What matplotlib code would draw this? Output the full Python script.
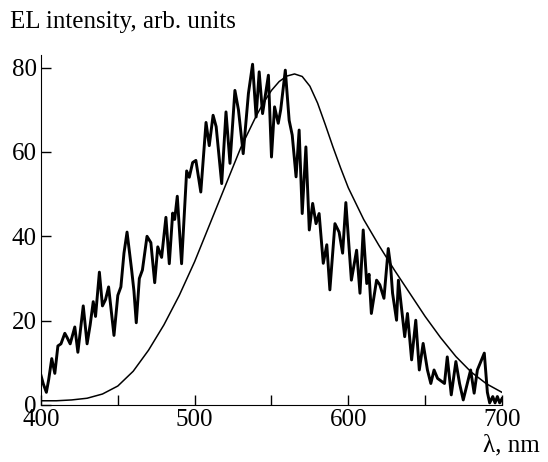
import matplotlib.pyplot as plt

# EL spectrum (noisy trace)
wl_el = [400, 401.5, 403.5, 405, 407, 409, 411, 413, 415.5, 417, 419, 422, 424, 427.5, 430,
         432, 434, 435.5, 438, 440, 442, 444, 447.5, 450, 452, 454, 456, 459, 460.5, 462,
         464, 466, 469, 471.5, 474, 476, 478.5, 481.3, 483.5, 485.7, 487, 488.7, 491.5, 494.8,
         496.5, 498.7, 500.8, 504, 507.4, 509.5, 512, 514, 517.6, 520.4, 523, 526.2, 528.5,
         531.6, 535, 537.7, 540, 542, 544.2, 548, 550, 552, 554.4, 556, 559, 561.5, 563.5,
         566, 568, 570, 572.4, 574.6, 576.8, 579, 581, 583.7, 586, 588, 591.3, 594, 596.3,
         598.4, 602, 605.4, 607.6, 609.7, 612, 613.5, 615, 618.4, 620.5, 623.2, 626, 627.5,
         628.8, 631.4, 632.6, 636.7, 638.5, 641.2, 643.9, 646.2, 648.7, 651.5, 653.7, 655.8,
         658.1, 662.6, 664.4, 667, 670, 672.4, 674.8, 679.6, 681.9, 684, 688.5, 690.5, 692,
         694, 695.5, 697, 698.5, 700]
el = [7, 5, 3, 6, 11, 7.5, 14, 14.5, 17, 16, 14.5, 18.5, 12.5, 23.5, 14.5,
      19, 24.5, 21, 31.5, 23.5, 25, 28, 16.5, 26, 28, 36, 41, 32, 27, 19.5,
      30, 32, 40, 38.5, 29, 37.5, 35, 44.5, 33.5, 45.5, 44, 49.5, 33.5, 55.5,
      54, 57.5, 58, 50.5, 67, 61.5, 68.7, 66, 52.5, 69.5, 57.3, 74.6, 70,
      59.6, 73.9, 80.8, 68.3, 79, 69.1, 78.2, 58.8, 70.7, 66.8, 70, 79.4, 67.5, 64,
      54.1, 65.2, 45.4, 61.2, 41.5, 47.8, 43, 45.4, 33.6, 38, 27.3, 43, 41, 36,
      48, 29.6, 36.7, 26.5, 41.5, 28.8, 31, 21.7, 29.6, 28.5, 25.3, 37.1, 33,
      26.5, 20.1, 29.6, 16.2, 21.7, 10.7, 20.1, 8.3, 14.6, 8.3, 5.1, 8.3,
      6.3, 5.1, 11.4, 2.4, 10.3, 5.1, 1.2, 8.3, 2.8, 8.3, 12.3, 3, 0.5,
      2, 0.5, 2, 0.5, 1.5]

# smooth curve
wl_fit = [400, 410, 420, 430, 440, 450, 460, 470, 480, 490, 500, 510, 520, 530, 540, 545,
          550, 555, 560, 565, 570, 575, 580, 585, 590, 595, 600, 610, 620, 630, 640, 650,
          660, 670, 680, 690, 700]
fit = [1.0, 1.0, 1.2, 1.6, 2.6, 4.5, 8, 13, 19, 26, 34, 43, 52, 61, 68.5, 71.8,
       74.6, 76.7, 78.0, 78.5, 77.9, 75.6, 71.6, 66.5, 61.2, 56.2, 51.5, 44, 37.8, 32, 26.5, 21,
       16, 11.5, 7.8, 5, 3]

plt.rcParams['font.family'] = 'Liberation Serif'
plt.rcParams['font.size'] = 18

fig = plt.figure(figsize=(5.48, 4.62), dpi=100)
ax = fig.add_axes([0.0748, 0.1234, 0.8412, 0.7576])

ax.plot(wl_el, el, color='black', lw=2.1, solid_joinstyle='round')
ax.plot(wl_fit, fit, color='black', lw=1.1)

ax.set_xlim(400, 700)
ax.set_ylim(0, 83)
ax.set_xticks(range(400, 701, 50))
ax.set_xticklabels(['400', '', '500', '', '600', '', '700'])
ax.set_yticks([0, 20, 40, 60, 80])
ax.tick_params(direction='in', length=7, width=1)
ax.tick_params(axis='y', pad=3)
ax.tick_params(axis='x', pad=3)
for s in ['top', 'right']:
    ax.spines[s].set_visible(False)

fig.text(0.018, 0.952, 'EL intensity, arb. units', ha='left', va='center')
fig.text(0.985, 0.035, 'λ, nm', ha='right', va='center')

fig.savefig('out.png', dpi=100)
